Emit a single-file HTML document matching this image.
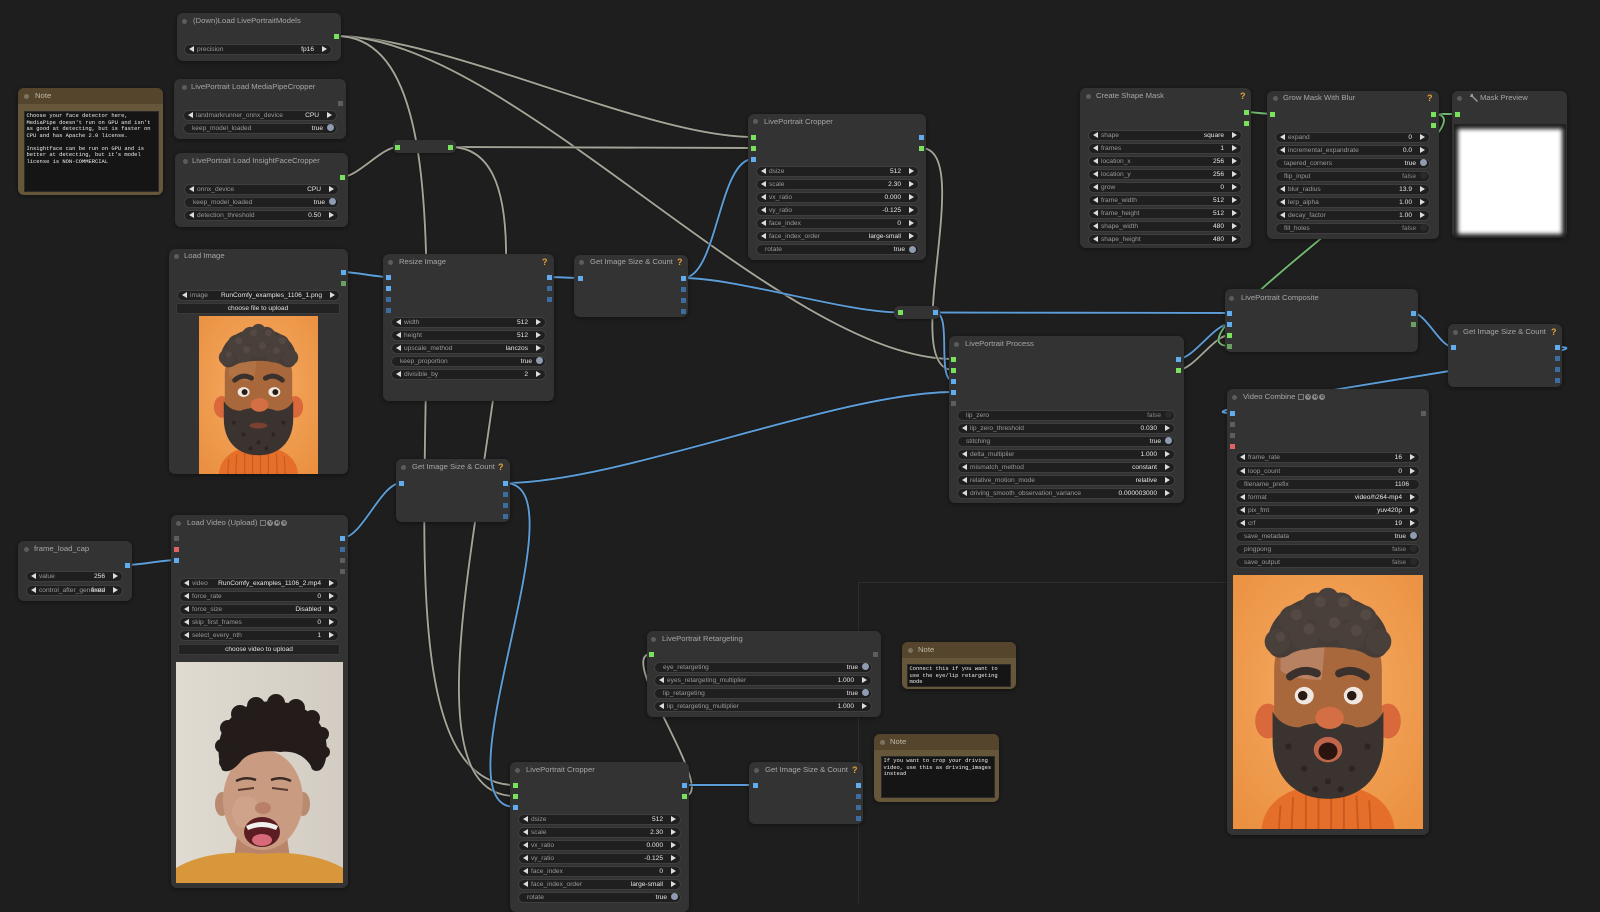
<!DOCTYPE html>
<html><head><meta charset="utf-8"><style>
body{margin:0;width:1600px;height:903px;background:#1e1e1e;overflow:hidden;position:relative;font-family:"Liberation Sans",sans-serif}
.n{position:absolute;background:#333333;border-radius:6px;box-shadow:0 1px 4px rgba(0,0,0,.45)}
.t{position:absolute;font-size:7.7px;line-height:10px;color:#a6a6a6;white-space:nowrap}
.dt{position:absolute;width:5px;height:5px;border-radius:50%;background:#5c5c5c}
.q{position:absolute;font-size:9px;line-height:10px;color:#e8a33a;font-weight:bold}
.s{position:absolute;width:5px;height:5px}
.g{background:#78e25e}.b{background:#62adf0}.bd{background:#3b6e9e}.gr{background:#5d5d5d}.rd{background:#e06464}.gd{background:#6aa062}
.w{position:absolute;box-sizing:border-box;height:11px;border:1px solid #3e3e3e;border-radius:6px;background:#1f1f1f;font-size:6.6px;line-height:9px;color:#999;white-space:nowrap;overflow:hidden}
.w span{position:absolute;left:12px;top:0}
.w.tg span{left:8px}
.w b{position:absolute;right:17px;top:0;font-weight:normal;color:#e6e6e6}
.w.tg b{right:13px}
.al{position:absolute;left:4px;top:1.5px;width:0;height:0;border-top:3px solid transparent;border-bottom:3px solid transparent;border-right:5px solid #ddd}
.ar{position:absolute;right:4px;top:1.5px;width:0;height:0;border-top:3px solid transparent;border-bottom:3px solid transparent;border-left:5px solid #ddd}
.o{position:absolute;right:2px;top:0.5px;width:7px;height:7px;border-radius:50%;background:#2a2a2a}
.o.on{background:#8f9bb0}
.bt{position:absolute;box-sizing:border-box;height:11px;background:#222;border:1px solid #3a3a3a;border-radius:2px;font-size:6.6px;line-height:9px;color:#e0e0e0;text-align:center}
.note{position:absolute;background:#66563a;border-radius:6px;box-shadow:0 1px 4px rgba(0,0,0,.45)}
.nbar{position:absolute;left:0;top:0;right:0;height:16px;background:#54452c;border-radius:6px 6px 0 0}
.ta{position:absolute;background:#151515;border:1px solid #2a2a2a;box-sizing:border-box;font-family:"Liberation Mono",monospace;font-size:5.45px;line-height:6.5px;color:#ececec;white-space:pre;padding:1px 0 0 1.5px;overflow:hidden}
.ic{display:inline-block;width:6px;height:6px;border-radius:50%;background:#8a8a8a;color:#2a2a2a;font-size:4.5px;line-height:6px;text-align:center;vertical-align:middle;margin-left:1px;font-weight:bold}
.ib{display:inline-block;width:6px;height:6px;border:1px solid #777;box-sizing:border-box;vertical-align:middle;margin-left:3px}
.rr{position:absolute;background:#333333;border-radius:5px;box-shadow:0 1px 3px rgba(0,0,0,.4)}
</style></head><body>

<div style="position:absolute;left:858px;top:582px;width:1px;height:321px;background:#2a2c31"></div>
<div style="position:absolute;left:858px;top:582px;width:369px;height:1px;background:#2a2c31"></div>

<svg id="wires" width="1600" height="903" style="position:absolute;left:0;top:0"></svg>
<script>
const G='#a2a496',B='#5c9dd8',M='#72b872';
const L=[[336,36,753,137,G],[336,36,953.5,359,G],[336,36,515,785,G],[342,177,397.5,147,G],[450,147,753,148,G],[450,147,515,796,G],[921,148,953.5,370,G],[1178,370,1229.5,335,G],[684,796,651,654,G],
[343,272,388,277,B],[549,277,580,278,B],[683,278,753,159,B],[683,278,900,312.5,B],[935,312.5,1229.5,313,B],[935,312.5,953.5,381,B],[505,483,953.5,392,B],[505,483,515,807,B],[342,538,401,483,B],[127,565,176,560,B],[1178,359,1229.5,324,B],[1413,313,1453,347,B],[1557,347,1232,413,B],[684,785,755,785,B],
[1246,112,1272,114,M],[1433,114,1457,114,M],[1433,114,1229.5,346,M]];
let h='';
for(const [a,b,c,d,col] of L){const k=Math.hypot(c-a,d-b)*0.25;const p='M'+a+' '+b+'C'+(a+k)+' '+b+' '+(c-k)+' '+d+' '+c+' '+d;
h+='<path d="'+p+'" stroke="#111" stroke-opacity=".5" stroke-width="3.6" fill="none"/><path d="'+p+'" stroke="'+col+'" stroke-width="1.9" fill="none"/>';}
document.getElementById('wires').innerHTML=h;
</script>

<!-- (Down)Load LivePortraitModels -->
<div class="n" style="left:177px;top:13px;width:164px;height:48px"></div>
<div class="dt" style="left:181.5px;top:18.5px"></div>
<div class="t" style="left:193px;top:16px">(Down)Load LivePortraitModels</div>
<div class="s g" style="left:333.5px;top:33.5px"></div>
<div class="w" style="left:184px;top:43.5px;width:148px"><i class="al"></i><span>precision</span><b>fp16</b><i class="ar"></i></div>

<!-- Note 1 -->
<div class="note" style="left:18px;top:88px;width:145px;height:107px"><div class="nbar"></div></div>
<div class="dt" style="left:23.5px;top:93.5px;background:#7d7360"></div>
<div class="t" style="left:35px;top:91px;color:#c0b8a8">Note</div>
<div class="ta" style="left:24px;top:111px;width:135px;height:81px">Choose your face detector here,
MediaPipe doesn't run on GPU and isn't
as good at detecting, but is faster on
CPU and has Apache 2.0 license.

Insightface can be run on GPU and is
better at detecting, but it's model
license is NON-COMMERCIAL</div>

<!-- MediaPipe -->
<div class="n" style="left:174px;top:79px;width:172px;height:60px"></div>
<div class="dt" style="left:181.5px;top:84.5px"></div>
<div class="t" style="left:191px;top:82px">LivePortrait Load MediaPipeCropper</div>
<div class="s gr" style="left:337.5px;top:100.5px"></div>
<div class="w" style="left:183px;top:109.5px;width:154px"><i class="al"></i><span>landmarkrunner_onnx_device</span><b>CPU</b><i class="ar"></i></div>
<div class="w tg" style="left:183px;top:122.5px;width:154px"><span>keep_model_loaded</span><b>true</b><i class="o on"></i></div>

<!-- InsightFace -->
<div class="n" style="left:175px;top:153px;width:173px;height:74px"></div>
<div class="dt" style="left:182.5px;top:158.5px"></div>
<div class="t" style="left:192px;top:156px">LivePortrait Load InsightFaceCropper</div>
<div class="s g" style="left:339.5px;top:174.5px"></div>
<div class="w" style="left:184px;top:183.5px;width:155px"><i class="al"></i><span>onnx_device</span><b>CPU</b><i class="ar"></i></div>
<div class="w tg" style="left:184px;top:196.5px;width:155px"><span>keep_model_loaded</span><b>true</b><i class="o on"></i></div>
<div class="w" style="left:184px;top:209.5px;width:155px"><i class="al"></i><span>detection_threshold</span><b>0.50</b><i class="ar"></i></div>

<!-- Reroute 1 -->
<div class="rr" style="left:393px;top:140px;width:63px;height:13px"></div>
<div class="s g" style="left:395px;top:144.5px"></div>
<div class="s g" style="left:447.5px;top:144.5px"></div>

<!-- Top Cropper -->
<div class="n" style="left:748px;top:114px;width:178px;height:146px"></div>
<div class="dt" style="left:752.5px;top:119px"></div>
<div class="t" style="left:764px;top:116.5px">LivePortrait Cropper</div>
<div class="s g" style="left:750.5px;top:134.5px"></div>
<div class="s g" style="left:750.5px;top:145.5px"></div>
<div class="s b" style="left:750.5px;top:156.5px"></div>
<div class="s b" style="left:918.5px;top:134.5px"></div>
<div class="s g" style="left:918.5px;top:145.5px"></div>
<div class="w" style="left:756px;top:165.5px;width:163px"><i class="al"></i><span>dsize</span><b>512</b><i class="ar"></i></div>
<div class="w" style="left:756px;top:178.5px;width:163px"><i class="al"></i><span>scale</span><b>2.30</b><i class="ar"></i></div>
<div class="w" style="left:756px;top:191.5px;width:163px"><i class="al"></i><span>vx_ratio</span><b>0.000</b><i class="ar"></i></div>
<div class="w" style="left:756px;top:204.5px;width:163px"><i class="al"></i><span>vy_ratio</span><b>-0.125</b><i class="ar"></i></div>
<div class="w" style="left:756px;top:217.5px;width:163px"><i class="al"></i><span>face_index</span><b>0</b><i class="ar"></i></div>
<div class="w" style="left:756px;top:230.5px;width:163px"><i class="al"></i><span>face_index_order</span><b>large-small</b><i class="ar"></i></div>
<div class="w tg" style="left:756px;top:244px;width:163px"><span>rotate</span><b>true</b><i class="o on"></i></div>

<!-- Load Image -->
<div class="n" style="left:169px;top:249px;width:179px;height:225px"></div>
<div class="dt" style="left:173.5px;top:253.5px"></div>
<div class="t" style="left:184px;top:251px">Load Image</div>
<div class="s b" style="left:340.5px;top:269.5px"></div>
<div class="s gd" style="left:340.5px;top:280.5px"></div>
<div class="w" style="left:177px;top:289.5px;width:163px"><i class="al"></i><span>image</span><b>RunComfy_examples_1106_1.png</b><i class="ar"></i></div>
<div class="bt" style="left:176px;top:302.5px;width:164px">choose file to upload</div>
<svg style="position:absolute;left:199px;top:316px" width="119" height="158" viewBox="0 0 120 160" preserveAspectRatio="none">
<defs><radialGradient id="bg1" cx="50%" cy="45%" r="70%"><stop offset="0" stop-color="#f7ad66"/><stop offset="1" stop-color="#ea9040"/></radialGradient></defs>
<rect width="120" height="160" fill="url(#bg1)"/>
<path d="M20 160 C22 140 40 132 60 132 C80 132 98 140 100 160Z" fill="#e56f2a"/>
<g stroke="#c85a1e" stroke-width="1.2"><line x1="30" y1="145" x2="29" y2="160"/><line x1="38" y1="140" x2="37" y2="160"/><line x1="46" y1="137" x2="46" y2="160"/><line x1="54" y1="136" x2="54" y2="160"/><line x1="62" y1="136" x2="62" y2="160"/><line x1="70" y1="137" x2="70" y2="160"/><line x1="78" y1="139" x2="79" y2="160"/><line x1="86" y1="142" x2="87" y2="160"/></g>
<ellipse cx="23" cy="92" rx="8" ry="11" fill="#d9683a"/><ellipse cx="97" cy="92" rx="8" ry="11" fill="#d9683a"/>
<path d="M26 60 C26 38 40 32 60 32 C80 32 94 38 94 60 L94 100 C94 125 80 138 60 138 C40 138 26 125 26 100Z" fill="#a9683c"/>
<path d="M30 52 C34 44 48 42 58 44 L56 66 C44 66 34 64 30 60Z" fill="#b87a4c" opacity=".6"/>
<path d="M25 86 C28 92 34 96 42 96 C50 92 70 92 78 96 C86 96 92 92 95 86 L95 104 C95 128 80 141 60 141 C40 141 25 128 25 104Z" fill="#3b332f"/>
<g fill="#2c2522"><circle cx="35" cy="108" r="2"/><circle cx="45" cy="120" r="2"/><circle cx="60" cy="128" r="2"/><circle cx="75" cy="120" r="2"/><circle cx="85" cy="108" r="2"/><circle cx="52" cy="134" r="2"/><circle cx="68" cy="134" r="2"/></g>
<ellipse cx="60" cy="111" rx="9" ry="3" fill="#7a4030"/>
<path d="M22 46 C20 30 34 14 60 12 C86 14 100 30 98 46 C96 52 90 54 84 50 C76 44 44 44 36 50 C30 54 24 52 22 46Z" fill="#463c37"/>
<g fill="#4a403b"><circle cx="28" cy="42" r="8"/><circle cx="38" cy="28" r="9"/><circle cx="52" cy="20" r="9"/><circle cx="68" cy="20" r="9"/><circle cx="82" cy="28" r="9"/><circle cx="92" cy="42" r="8"/><circle cx="45" cy="38" r="9"/><circle cx="60" cy="33" r="9"/><circle cx="75" cy="38" r="9"/><circle cx="60" cy="15" r="7"/></g>
<g fill="#544943"><circle cx="40" cy="25" r="3.5"/><circle cx="55" cy="17" r="3.5"/><circle cx="70" cy="17" r="3.5"/><circle cx="84" cy="25" r="3.5"/><circle cx="48" cy="34" r="3.5"/><circle cx="64" cy="30" r="3.5"/><circle cx="78" cy="35" r="3.5"/><circle cx="30" cy="39" r="3"/></g>
<path d="M36 65 Q44 58 53 63" stroke="#3a302c" stroke-width="5" stroke-linecap="round" fill="none"/>
<path d="M67 63 Q76 58 84 65" stroke="#3a302c" stroke-width="5" stroke-linecap="round" fill="none"/>
<ellipse cx="45" cy="77" rx="6" ry="5" fill="#f0e8e0"/><circle cx="46" cy="77" r="3" fill="#2a1a14"/>
<ellipse cx="76" cy="77" rx="6" ry="5" fill="#f0e8e0"/><circle cx="77" cy="77" r="3" fill="#2a1a14"/>
<ellipse cx="61" cy="90" rx="9" ry="7" fill="#d46e44"/>
</svg>

<!-- Resize Image -->
<div class="n" style="left:383px;top:254px;width:171px;height:147px"></div>
<div class="dt" style="left:387.5px;top:259.5px"></div>
<div class="t" style="left:399px;top:257px">Resize Image</div>
<div class="q" style="left:542px;top:257px">?</div>
<div class="s b" style="left:385.5px;top:274.5px"></div>
<div class="s b" style="left:385.5px;top:285.5px"></div>
<div class="s bd" style="left:385.5px;top:296.5px"></div>
<div class="s bd" style="left:385.5px;top:307.5px"></div>
<div class="s b" style="left:546.5px;top:274.5px"></div>
<div class="s bd" style="left:546.5px;top:285.5px"></div>
<div class="s bd" style="left:546.5px;top:296.5px"></div>
<div class="w" style="left:391px;top:316.5px;width:155px"><i class="al"></i><span>width</span><b>512</b><i class="ar"></i></div>
<div class="w" style="left:391px;top:329.5px;width:155px"><i class="al"></i><span>height</span><b>512</b><i class="ar"></i></div>
<div class="w" style="left:391px;top:342.5px;width:155px"><i class="al"></i><span>upscale_method</span><b>lanczos</b><i class="ar"></i></div>
<div class="w tg" style="left:391px;top:355.5px;width:155px"><span>keep_proportion</span><b>true</b><i class="o on"></i></div>
<div class="w" style="left:391px;top:368.5px;width:155px"><i class="al"></i><span>divisible_by</span><b>2</b><i class="ar"></i></div>

<!-- GISC top -->
<div class="n" style="left:574px;top:255px;width:114px;height:62px"></div>
<div class="dt" style="left:579px;top:259.5px"></div>
<div class="t" style="left:590px;top:257px">Get Image Size &amp; Count</div>
<div class="q" style="left:677px;top:257px">?</div>
<div class="s b" style="left:577.5px;top:275.5px"></div>
<div class="s b" style="left:680.5px;top:275.5px"></div>
<div class="s bd" style="left:680.5px;top:286.5px"></div>
<div class="s bd" style="left:680.5px;top:297.5px"></div>
<div class="s bd" style="left:680.5px;top:308.5px"></div>

<!-- Reroute 2 -->
<div class="rr" style="left:894px;top:306px;width:46px;height:13px"></div>
<div class="s g" style="left:897.5px;top:310px"></div>
<div class="s b" style="left:932.5px;top:310px"></div>

<!-- Process -->
<div class="n" style="left:949px;top:336px;width:235px;height:167px"></div>
<div class="dt" style="left:954px;top:341.5px"></div>
<div class="t" style="left:965px;top:339px">LivePortrait Process</div>
<div class="s g" style="left:951px;top:356.5px"></div>
<div class="s g" style="left:951px;top:367.5px"></div>
<div class="s b" style="left:951px;top:378.5px"></div>
<div class="s b" style="left:951px;top:389.5px"></div>
<div class="s gr" style="left:951px;top:400.5px"></div>
<div class="s b" style="left:1175.5px;top:356.5px"></div>
<div class="s g" style="left:1175.5px;top:367.5px"></div>
<div class="w tg" style="left:957px;top:409.5px;width:218px"><span>lip_zero</span><b style="color:#888">false</b><i class="o"></i></div>
<div class="w" style="left:957px;top:422.5px;width:218px"><i class="al"></i><span>lip_zero_threshold</span><b>0.030</b><i class="ar"></i></div>
<div class="w tg" style="left:957px;top:435.5px;width:218px"><span>stitching</span><b>true</b><i class="o on"></i></div>
<div class="w" style="left:957px;top:448.5px;width:218px"><i class="al"></i><span>delta_multiplier</span><b>1.000</b><i class="ar"></i></div>
<div class="w" style="left:957px;top:461.5px;width:218px"><i class="al"></i><span>mismatch_method</span><b>constant</b><i class="ar"></i></div>
<div class="w" style="left:957px;top:474.5px;width:218px"><i class="al"></i><span>relative_motion_mode</span><b>relative</b><i class="ar"></i></div>
<div class="w" style="left:957px;top:487.5px;width:218px"><i class="al"></i><span>driving_smooth_observation_variance</span><b>0.000003000</b><i class="ar"></i></div>

<!-- Create Shape Mask -->
<div class="n" style="left:1080px;top:88px;width:171px;height:160px"></div>
<div class="dt" style="left:1085.5px;top:93.5px"></div>
<div class="t" style="left:1096px;top:91px">Create Shape Mask</div>
<div class="q" style="left:1240px;top:91px">?</div>
<div class="s g" style="left:1243.5px;top:109.5px"></div>
<div class="s g" style="left:1243.5px;top:120.5px"></div>
<div class="w" style="left:1088px;top:129.5px;width:154px"><i class="al"></i><span>shape</span><b>square</b><i class="ar"></i></div>
<div class="w" style="left:1088px;top:142.5px;width:154px"><i class="al"></i><span>frames</span><b>1</b><i class="ar"></i></div>
<div class="w" style="left:1088px;top:155.5px;width:154px"><i class="al"></i><span>location_x</span><b>256</b><i class="ar"></i></div>
<div class="w" style="left:1088px;top:168.5px;width:154px"><i class="al"></i><span>location_y</span><b>256</b><i class="ar"></i></div>
<div class="w" style="left:1088px;top:181.5px;width:154px"><i class="al"></i><span>grow</span><b>0</b><i class="ar"></i></div>
<div class="w" style="left:1088px;top:194.5px;width:154px"><i class="al"></i><span>frame_width</span><b>512</b><i class="ar"></i></div>
<div class="w" style="left:1088px;top:207.5px;width:154px"><i class="al"></i><span>frame_height</span><b>512</b><i class="ar"></i></div>
<div class="w" style="left:1088px;top:220.5px;width:154px"><i class="al"></i><span>shape_width</span><b>480</b><i class="ar"></i></div>
<div class="w" style="left:1088px;top:233.5px;width:154px"><i class="al"></i><span>shape_height</span><b>480</b><i class="ar"></i></div>

<!-- Grow Mask With Blur -->
<div class="n" style="left:1267px;top:91px;width:172px;height:148px"></div>
<div class="dt" style="left:1272.5px;top:95.5px"></div>
<div class="t" style="left:1283px;top:93px">Grow Mask With Blur</div>
<div class="q" style="left:1427px;top:93px">?</div>
<div class="s g" style="left:1269.5px;top:111.5px"></div>
<div class="s g" style="left:1430.5px;top:111.5px"></div>
<div class="s g" style="left:1430.5px;top:122.5px"></div>
<div class="w" style="left:1275px;top:131.5px;width:155px"><i class="al"></i><span>expand</span><b>0</b><i class="ar"></i></div>
<div class="w" style="left:1275px;top:144.5px;width:155px"><i class="al"></i><span>incremental_expandrate</span><b>0.0</b><i class="ar"></i></div>
<div class="w tg" style="left:1275px;top:157.5px;width:155px"><span>tapered_corners</span><b>true</b><i class="o on"></i></div>
<div class="w tg" style="left:1275px;top:170.5px;width:155px"><span>flip_input</span><b style="color:#888">false</b><i class="o"></i></div>
<div class="w" style="left:1275px;top:183.5px;width:155px"><i class="al"></i><span>blur_radius</span><b>13.9</b><i class="ar"></i></div>
<div class="w" style="left:1275px;top:196.5px;width:155px"><i class="al"></i><span>lerp_alpha</span><b>1.00</b><i class="ar"></i></div>
<div class="w" style="left:1275px;top:209.5px;width:155px"><i class="al"></i><span>decay_factor</span><b>1.00</b><i class="ar"></i></div>
<div class="w tg" style="left:1275px;top:222.5px;width:155px"><span>fill_holes</span><b style="color:#888">false</b><i class="o"></i></div>

<!-- Mask Preview -->
<div class="n" style="left:1452px;top:91px;width:115px;height:147px"></div>
<div class="dt" style="left:1457px;top:95.5px"></div>
<svg style="position:absolute;left:1469px;top:93px" width="10" height="10" viewBox="0 0 10 10"><path d="M2 1 L4 1 L4 3 L9 8 L8 9 L3 4 L1 4 Z" fill="#9a9a9a"/></svg>
<div class="t" style="left:1480px;top:93px">Mask Preview</div>
<div class="s g" style="left:1454.5px;top:111.5px"></div>
<div style="position:absolute;left:1454px;top:124px;width:112px;height:114px;background:#202020;overflow:hidden"><div style="position:absolute;left:4px;top:5px;width:104px;height:105px;background:#fff;filter:blur(2px)"></div></div>

<!-- Composite -->
<div class="n" style="left:1225px;top:289px;width:193px;height:63px"></div>
<div class="dt" style="left:1229px;top:295.5px"></div>
<div class="t" style="left:1241px;top:293px">LivePortrait Composite</div>
<div class="s b" style="left:1227px;top:310.5px"></div>
<div class="s b" style="left:1227px;top:321.5px"></div>
<div class="s g" style="left:1227px;top:332.5px"></div>
<div class="s gd" style="left:1227px;top:343.5px"></div>
<div class="s b" style="left:1410.5px;top:310.5px"></div>
<div class="s gd" style="left:1410.5px;top:321.5px"></div>

<!-- GISC right -->
<div class="n" style="left:1448px;top:324px;width:114px;height:63px"></div>
<div class="dt" style="left:1453px;top:329.5px"></div>
<div class="t" style="left:1463px;top:327px">Get Image Size &amp; Count</div>
<div class="q" style="left:1551px;top:327px">?</div>
<div class="s b" style="left:1450.5px;top:344.5px"></div>
<div class="s b" style="left:1554.5px;top:344.5px"></div>
<div class="s bd" style="left:1554.5px;top:355.5px"></div>
<div class="s bd" style="left:1554.5px;top:366.5px"></div>
<div class="s bd" style="left:1554.5px;top:377.5px"></div>

<!-- Video Combine -->
<div class="n" style="left:1227px;top:389px;width:202px;height:446px"></div>
<div class="dt" style="left:1231.5px;top:394.5px"></div>
<div class="t" style="left:1243px;top:392px">Video Combine<i class="ib"></i><span class="ic">V</span><span class="ic">H</span><span class="ic">S</span></div>
<div class="s b" style="left:1229.5px;top:410.5px"></div>
<div class="s gr" style="left:1229.5px;top:421.5px"></div>
<div class="s gr" style="left:1229.5px;top:432.5px"></div>
<div class="s rd" style="left:1229.5px;top:443.5px"></div>
<div class="s gr" style="left:1420.5px;top:410.5px"></div>
<div class="w" style="left:1235px;top:451.5px;width:185px"><i class="al"></i><span>frame_rate</span><b>16</b><i class="ar"></i></div>
<div class="w" style="left:1235px;top:465.5px;width:185px"><i class="al"></i><span>loop_count</span><b>0</b><i class="ar"></i></div>
<div class="w tg" style="left:1235px;top:478.5px;width:185px"><span>filename_prefix</span><b style="right:10px">1106</b></div>
<div class="w" style="left:1235px;top:491.5px;width:185px"><i class="al"></i><span>format</span><b>video/h264-mp4</b><i class="ar"></i></div>
<div class="w" style="left:1235px;top:504.5px;width:185px"><i class="al"></i><span>pix_fmt</span><b>yuv420p</b><i class="ar"></i></div>
<div class="w" style="left:1235px;top:517.5px;width:185px"><i class="al"></i><span>crf</span><b>19</b><i class="ar"></i></div>
<div class="w tg" style="left:1235px;top:530.5px;width:185px"><span>save_metadata</span><b>true</b><i class="o on"></i></div>
<div class="w tg" style="left:1235px;top:543.5px;width:185px"><span>pingpong</span><b style="color:#888">false</b><i class="o"></i></div>
<div class="w tg" style="left:1235px;top:556.5px;width:185px"><span>save_output</span><b style="color:#888">false</b><i class="o"></i></div>
<svg style="position:absolute;left:1233px;top:575px" width="190" height="254" viewBox="0 0 120 160" preserveAspectRatio="none">
<defs><radialGradient id="bg2" cx="50%" cy="45%" r="70%"><stop offset="0" stop-color="#f7ad66"/><stop offset="1" stop-color="#ea9040"/></radialGradient></defs>
<rect width="120" height="160" fill="url(#bg2)"/>
<path d="M18 160 C20 140 40 132 60 132 C80 132 100 140 102 160Z" fill="#e56f2a"/>
<g stroke="#c85a1e" stroke-width="1.2"><line x1="30" y1="145" x2="29" y2="160"/><line x1="38" y1="140" x2="37" y2="160"/><line x1="46" y1="137" x2="46" y2="160"/><line x1="54" y1="136" x2="54" y2="160"/><line x1="62" y1="136" x2="62" y2="160"/><line x1="70" y1="137" x2="70" y2="160"/><line x1="78" y1="139" x2="79" y2="160"/><line x1="86" y1="142" x2="87" y2="160"/></g>
<ellipse cx="22" cy="92" rx="8" ry="11" fill="#d9683a"/><ellipse cx="98" cy="92" rx="8" ry="11" fill="#d9683a"/>
<path d="M26 60 C26 38 40 32 60 32 C80 32 94 38 94 60 L94 100 C94 125 80 138 60 138 C40 138 26 125 26 100Z" fill="#a9683c"/>
<path d="M30 52 C34 44 48 42 58 44 L56 66 C44 66 34 64 30 60Z" fill="#c79a86" opacity=".5"/>
<path d="M25 86 C28 92 34 96 42 96 C50 92 70 92 78 96 C86 96 92 92 95 86 L95 104 C95 128 80 141 60 141 C40 141 25 128 25 104Z" fill="#3b332f"/>
<g fill="#2c2522"><circle cx="35" cy="108" r="2"/><circle cx="45" cy="122" r="2"/><circle cx="60" cy="130" r="2"/><circle cx="75" cy="122" r="2"/><circle cx="85" cy="108" r="2"/><circle cx="52" cy="135" r="2"/><circle cx="68" cy="135" r="2"/></g>
<ellipse cx="60" cy="110" rx="9" ry="8" fill="#c0654a"/><ellipse cx="60" cy="111" rx="6" ry="5.5" fill="#2a1410"/>
<path d="M22 46 C20 30 34 14 60 12 C86 14 100 30 98 46 C96 52 90 54 84 50 C76 44 44 44 36 50 C30 54 24 52 22 46Z" fill="#463c37"/>
<g fill="#4a403b"><circle cx="28" cy="42" r="8"/><circle cx="38" cy="28" r="9"/><circle cx="52" cy="20" r="9"/><circle cx="68" cy="20" r="9"/><circle cx="82" cy="28" r="9"/><circle cx="92" cy="42" r="8"/><circle cx="45" cy="38" r="9"/><circle cx="60" cy="33" r="9"/><circle cx="75" cy="38" r="9"/><circle cx="60" cy="15" r="7"/></g>
<g fill="#544943"><circle cx="40" cy="25" r="3.5"/><circle cx="55" cy="17" r="3.5"/><circle cx="70" cy="17" r="3.5"/><circle cx="84" cy="25" r="3.5"/><circle cx="48" cy="34" r="3.5"/><circle cx="64" cy="30" r="3.5"/><circle cx="78" cy="35" r="3.5"/><circle cx="30" cy="39" r="3"/></g>
<path d="M36 64 Q44 58 53 62" stroke="#3a302c" stroke-width="5" stroke-linecap="round" fill="none"/>
<path d="M67 62 Q76 58 84 64" stroke="#3a302c" stroke-width="5" stroke-linecap="round" fill="none"/>
<ellipse cx="45" cy="76" rx="6" ry="5.5" fill="#f0e8e0"/><circle cx="44" cy="76" r="3" fill="#2a1a14"/>
<ellipse cx="76" cy="76" rx="6" ry="5.5" fill="#f0e8e0"/><circle cx="75" cy="76" r="3" fill="#2a1a14"/>
<ellipse cx="61" cy="90" rx="9" ry="7" fill="#d46e44"/>
</svg>

<!-- GISC mid -->
<div class="n" style="left:396px;top:459px;width:114px;height:63px"></div>
<div class="dt" style="left:400.5px;top:464.5px"></div>
<div class="t" style="left:412px;top:462px">Get Image Size &amp; Count</div>
<div class="q" style="left:498px;top:462px">?</div>
<div class="s b" style="left:398.5px;top:480.5px"></div>
<div class="s b" style="left:502.5px;top:480.5px"></div>
<div class="s bd" style="left:502.5px;top:491.5px"></div>
<div class="s bd" style="left:502.5px;top:502.5px"></div>
<div class="s bd" style="left:502.5px;top:513.5px"></div>

<!-- Load Video -->
<div class="n" style="left:171px;top:515px;width:177px;height:373px"></div>
<div class="dt" style="left:175.5px;top:520.5px"></div>
<div class="t" style="left:187px;top:518px">Load Video (Upload)<i class="ib"></i><span class="ic">V</span><span class="ic">H</span><span class="ic">S</span></div>
<div class="s gr" style="left:173.5px;top:535.5px"></div>
<div class="s rd" style="left:173.5px;top:546.5px"></div>
<div class="s b" style="left:173.5px;top:557.5px"></div>
<div class="s b" style="left:339.5px;top:535.5px"></div>
<div class="s bd" style="left:339.5px;top:546.5px"></div>
<div class="s gr" style="left:339.5px;top:557.5px"></div>
<div class="s gr" style="left:339.5px;top:568.5px"></div>
<div class="w" style="left:179px;top:577.5px;width:160px"><i class="al"></i><span>video</span><b>RunComfy_examples_1106_2.mp4</b><i class="ar"></i></div>
<div class="w" style="left:179px;top:590.5px;width:160px"><i class="al"></i><span>force_rate</span><b>0</b><i class="ar"></i></div>
<div class="w" style="left:179px;top:603.5px;width:160px"><i class="al"></i><span>force_size</span><b>Disabled</b><i class="ar"></i></div>
<div class="w" style="left:179px;top:616.5px;width:160px"><i class="al"></i><span>skip_first_frames</span><b>0</b><i class="ar"></i></div>
<div class="w" style="left:179px;top:629.5px;width:160px"><i class="al"></i><span>select_every_nth</span><b>1</b><i class="ar"></i></div>
<div class="bt" style="left:178px;top:643.5px;width:162px">choose video to upload</div>
<svg style="position:absolute;left:176px;top:662px" width="167" height="221" viewBox="0 0 167 221">
<defs><linearGradient id="wl" x1="0" y1="0" x2="1" y2="0"><stop offset="0" stop-color="#e0dbd2"/><stop offset="1" stop-color="#d2ccc2"/></linearGradient></defs>
<rect width="167" height="221" fill="url(#wl)"/>
<ellipse cx="46" cy="142" rx="7" ry="12" fill="#b88a70"/><ellipse cx="127" cy="142" rx="7" ry="12" fill="#b88a70"/>
<path d="M62 168 L110 168 L114 196 C96 204 74 204 58 196Z" fill="#b9846a"/>
<path d="M0 221 L0 206 C20 194 50 188 84 192 C120 188 150 196 167 206 L167 221Z" fill="#d9973c"/>
<ellipse cx="87" cy="138" rx="40" ry="50" fill="#c99c82"/>
<ellipse cx="70" cy="150" rx="14" ry="16" fill="#d2a890" opacity=".6"/>
<path d="M46 108 C38 86 44 62 62 50 C76 38 102 36 122 44 C142 52 154 72 150 96 C148 108 142 112 136 106 C130 94 118 88 104 90 C88 88 74 90 66 98 C60 106 52 112 46 108Z" fill="#231c1a"/>
<g fill="#231c1a"><circle cx="50" cy="100" r="7"/><circle cx="46" cy="84" r="7"/><circle cx="52" cy="66" r="8"/><circle cx="64" cy="52" r="9"/><circle cx="80" cy="44" r="9"/><circle cx="100" cy="41" r="9"/><circle cx="120" cy="46" r="9"/><circle cx="136" cy="56" r="8"/><circle cx="146" cy="72" r="7"/><circle cx="148" cy="90" r="6"/><circle cx="140" cy="104" r="5"/></g>
<path d="M60 119 Q70 114 80 118" stroke="#3a2a24" stroke-width="2.5" fill="none"/><path d="M95 118 Q105 114 115 119" stroke="#3a2a24" stroke-width="2.5" fill="none"/>
<path d="M62 128 L78 126" stroke="#5a3a30" stroke-width="2" fill="none"/><path d="M96 126 L112 128" stroke="#5a3a30" stroke-width="2" fill="none"/>
<ellipse cx="87" cy="146" rx="8" ry="6" fill="#b88068"/>
<ellipse cx="86" cy="170" rx="18" ry="15" fill="#5b1d22"/>
<path d="M70 164 Q86 156 102 164 L100 168 Q86 162 72 168Z" fill="#f2f0ee"/>
<ellipse cx="86" cy="178" rx="10" ry="6" fill="#d66a7a"/>
</svg>

<!-- frame_load_cap -->
<div class="n" style="left:18px;top:541px;width:114px;height:60px"></div>
<div class="dt" style="left:23.5px;top:546.5px"></div>
<div class="t" style="left:34px;top:544px">frame_load_cap</div>
<div class="s b" style="left:124.5px;top:562.5px"></div>
<div class="w" style="left:26px;top:570.5px;width:97px"><i class="al"></i><span>value</span><b>256</b><i class="ar"></i></div>
<div class="w" style="left:26px;top:584.5px;width:97px"><i class="al"></i><span>control_after_generate</span><b>fixed</b><i class="ar"></i></div>

<!-- Retargeting -->
<div class="n" style="left:647px;top:631px;width:234px;height:86px"></div>
<div class="dt" style="left:650.5px;top:636.5px"></div>
<div class="t" style="left:662px;top:634px">LivePortrait Retargeting</div>
<div class="s g" style="left:648.5px;top:651.5px"></div>
<div class="s gr" style="left:872.5px;top:651.5px"></div>
<div class="w tg" style="left:654px;top:661.5px;width:218px"><span>eye_retargeting</span><b>true</b><i class="o on"></i></div>
<div class="w" style="left:654px;top:674.5px;width:218px"><i class="al"></i><span>eyes_retargeting_multiplier</span><b>1.000</b><i class="ar"></i></div>
<div class="w tg" style="left:654px;top:687.5px;width:218px"><span>lip_retargeting</span><b>true</b><i class="o on"></i></div>
<div class="w" style="left:654px;top:700.5px;width:218px"><i class="al"></i><span>lip_retargeting_multiplier</span><b>1.000</b><i class="ar"></i></div>

<!-- Note 2 -->
<div class="note" style="left:902px;top:642px;width:114px;height:47px"><div class="nbar"></div></div>
<div class="dt" style="left:907.5px;top:647.5px;background:#7d7360"></div>
<div class="t" style="left:918px;top:645px;color:#c0b8a8">Note</div>
<div class="ta" style="left:907px;top:664px;width:104px;height:23px">Connect this if you want to
use the eye/lip retargeting
mode</div>

<!-- Note 3 -->
<div class="note" style="left:874px;top:734px;width:125px;height:68px"><div class="nbar"></div></div>
<div class="dt" style="left:879.5px;top:739.5px;background:#7d7360"></div>
<div class="t" style="left:890px;top:737px;color:#c0b8a8">Note</div>
<div class="ta" style="left:881px;top:756px;width:114px;height:42px">If you want to crop your driving
video, use this as driving_images
instead</div>

<!-- Bottom Cropper -->
<div class="n" style="left:510px;top:762px;width:179px;height:150px"></div>
<div class="dt" style="left:515px;top:767.5px"></div>
<div class="t" style="left:526px;top:765px">LivePortrait Cropper</div>
<div class="s g" style="left:512.5px;top:782.5px"></div>
<div class="s g" style="left:512.5px;top:793.5px"></div>
<div class="s b" style="left:512.5px;top:804.5px"></div>
<div class="s b" style="left:681.5px;top:782.5px"></div>
<div class="s g" style="left:681.5px;top:793.5px"></div>
<div class="w" style="left:518px;top:813.5px;width:163px"><i class="al"></i><span>dsize</span><b>512</b><i class="ar"></i></div>
<div class="w" style="left:518px;top:826.5px;width:163px"><i class="al"></i><span>scale</span><b>2.30</b><i class="ar"></i></div>
<div class="w" style="left:518px;top:839.5px;width:163px"><i class="al"></i><span>vx_ratio</span><b>0.000</b><i class="ar"></i></div>
<div class="w" style="left:518px;top:852.5px;width:163px"><i class="al"></i><span>vy_ratio</span><b>-0.125</b><i class="ar"></i></div>
<div class="w" style="left:518px;top:865.5px;width:163px"><i class="al"></i><span>face_index</span><b>0</b><i class="ar"></i></div>
<div class="w" style="left:518px;top:878.5px;width:163px"><i class="al"></i><span>face_index_order</span><b>large-small</b><i class="ar"></i></div>
<div class="w tg" style="left:518px;top:891.5px;width:163px"><span>rotate</span><b>true</b><i class="o on"></i></div>

<!-- GISC bottom -->
<div class="n" style="left:749px;top:762px;width:114px;height:62px"></div>
<div class="dt" style="left:754px;top:767.5px"></div>
<div class="t" style="left:765px;top:765px">Get Image Size &amp; Count</div>
<div class="q" style="left:852px;top:765px">?</div>
<div class="s b" style="left:752.5px;top:782.5px"></div>
<div class="s b" style="left:855.5px;top:782.5px"></div>
<div class="s bd" style="left:855.5px;top:793.5px"></div>
<div class="s bd" style="left:855.5px;top:804.5px"></div>
<div class="s bd" style="left:855.5px;top:815.5px"></div>

</body></html>
